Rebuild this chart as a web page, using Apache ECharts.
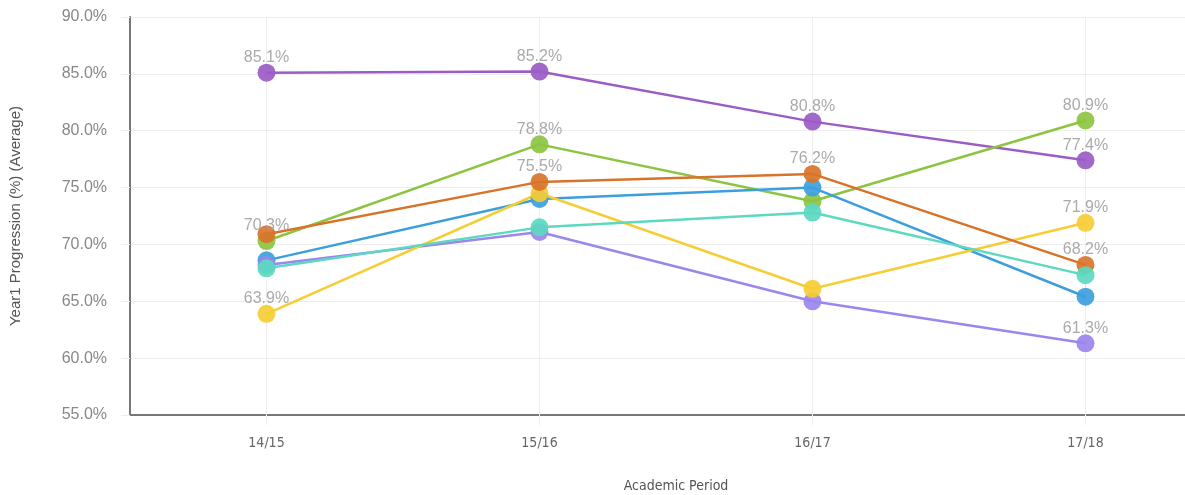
<!DOCTYPE html>
<html>
<head>
<meta charset="utf-8">
<script src="https://cdn.jsdelivr.net/npm/echarts@6/dist/echarts.min.js"></script>
<style>
  html, body { margin: 0; padding: 0; background: #fff; }
  #main { width: 1185px; height: 495px; }
</style>
</head>
<body>
<div id="main"></div>
<script>
const periods = ['14/15', '15/16', '16/17', '17/18'];

// series values (%)
const purple = [85.1, 85.2, 80.8, 77.4];
const green = [70.3, 78.8, 73.8, 80.9];
const blue = [68.6, 74.0, 75.0, 65.4];
const lilac = [68.2, 71.1, 65.0, 61.3];
const yellow = [63.9, 74.5, 66.1, 71.9];
const orange = [70.9, 75.5, 76.2, 68.2];
const teal = [67.9, 71.5, 72.8, 67.3];

// which points keep a visible value label
const purpleLabels = [1, 1, 1, 1];
const greenLabels = [1, 1, 0, 1];
const blueLabels = [0, 0, 0, 0];
const lilacLabels = [0, 0, 0, 1];
const yellowLabels = [1, 0, 0, 1];
const orangeLabels = [0, 1, 1, 1];
const tealLabels = [0, 0, 0, 0];

const lines = [
  {name: 'A', values: purple, labels: purpleLabels, color: '#9a5cc6'},
  {name: 'B', values: green, labels: greenLabels, color: '#8cc440'},
  {name: 'C', values: blue, labels: blueLabels, color: '#3c9fdc'},
  {name: 'D', values: lilac, labels: lilacLabels, color: '#9c86ee'},
  {name: 'E', values: yellow, labels: yellowLabels, color: '#f6cd35'},
  {name: 'F', values: orange, labels: orangeLabels, color: '#d8742a'},
  {name: 'G', values: teal, labels: tealLabels, color: '#5cd9c0'}
];

const narrow = '"DejaVu Sans Condensed", "Liberation Sans", sans-serif';

const chart = echarts.init(document.getElementById('main'));

const series = lines.map(s => ({
  name: s.name,
  type: 'line',
  z: 3,
  symbol: 'circle',
  symbolSize: 18,
  lineStyle: {width: 2.5, color: s.color},
  itemStyle: {color: s.color, opacity: 0.92},
  data: s.values.map((v, i) => ({
    value: v,
    label: {show: !!s.labels[i]}
  })),
  label: {
    position: 'top',
    distance: -2,
    color: '#a3a3a3',
    fontSize: 16,
    fontFamily: 'Liberation Sans',
    formatter: p => p.value.toFixed(1) + '%'
  }
}));

chart.setOption({
  animation: false,
  grid: {left: 130, right: -37, top: 17, bottom: 80, outerBoundsMode: 'none'},
  xAxis: {
    type: 'category',
    data: periods,
    boundaryGap: true,
    name: 'Academic Period',
    nameLocation: 'middle',
    nameGap: 64,
    nameTextStyle: {color: '#555', fontSize: 14, fontFamily: narrow},
    axisLine: {lineStyle: {color: '#777', width: 2}},
    axisTick: {show: true, alignWithLabel: true, length: 10, lineStyle: {color: '#eee'}},
    axisLabel: {color: '#666', fontSize: 14, margin: 21, fontFamily: narrow},
    splitLine: {show: false}
  },
  yAxis: {
    type: 'value',
    min: 55,
    max: 90,
    interval: 5,
    name: 'Year1 Progression (%) (Average)',
    nameLocation: 'middle',
    nameGap: 107,
    nameTextStyle: {color: '#555', fontSize: 15, fontFamily: 'Liberation Sans'},
    axisLine: {show: true, lineStyle: {color: '#777', width: 2}},
    axisTick: {show: true, length: 9, lineStyle: {color: '#eee'}},
    axisLabel: {
      color: '#888',
      fontSize: 16,
      margin: 23,
      fontFamily: 'Liberation Sans',
      formatter: v => v.toFixed(1) + '%'
    },
    splitLine: {lineStyle: {color: '#eee'}}
  },
  series: [{
    type: 'line',
    z: 1,
    data: [],
    silent: true,
    markLine: {
      silent: true,
      z: 1,
      symbol: 'none',
      label: {show: false},
      lineStyle: {color: '#eee', type: 'solid', width: 1},
      data: periods.map(p => ({xAxis: p}))
    }
  }].concat(series)
});
</script>
</body>
</html>
